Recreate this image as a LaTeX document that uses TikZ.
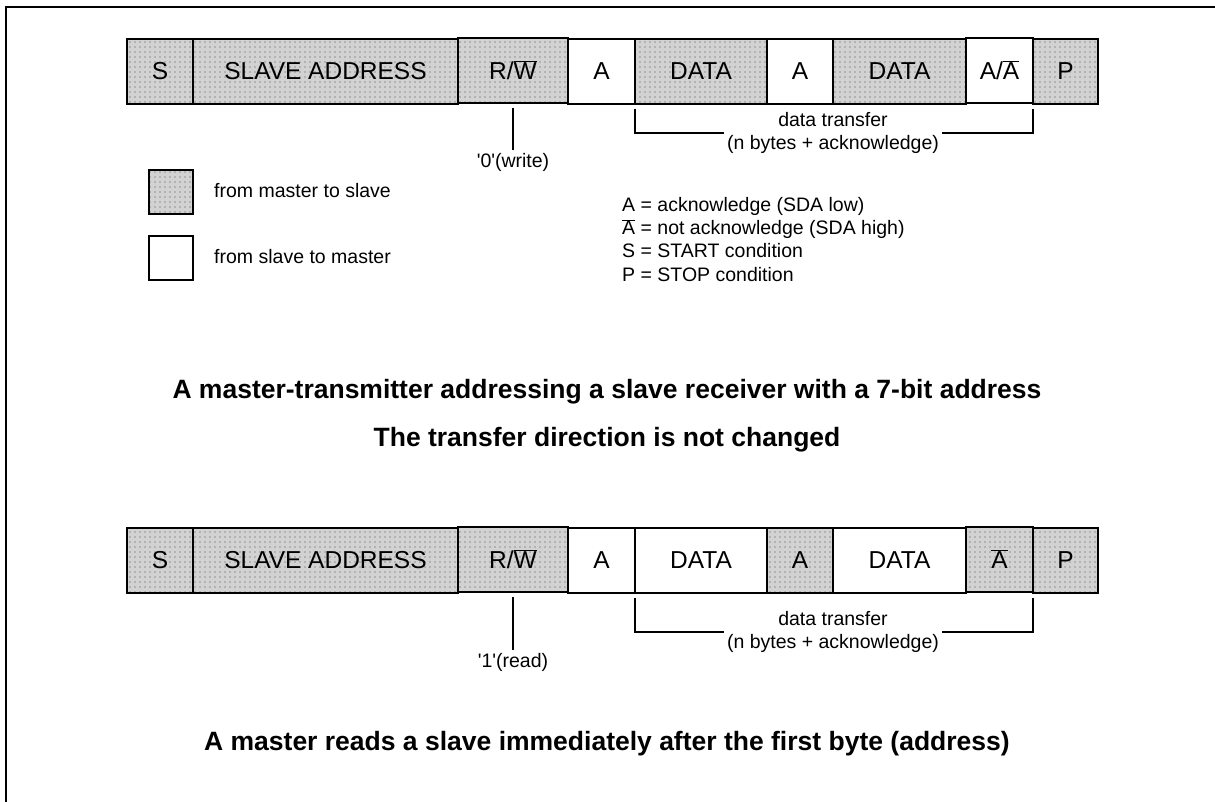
\documentclass[tikz,border=0pt]{standalone}
\usepackage{fontspec}
\setmainfont{Liberation Sans}
\usetikzlibrary{matrix,patterns.meta}
\newcommand{\Abar}{$\overline{\mbox{A}}$}
\newcommand{\Wbar}{$\overline{\mbox{W}}$}
\newcommand{\sq}{\textquotesingle}
\tikzset{
bar/.style={
  matrix of nodes,
  line width=1.6pt,
  column sep=-\pgflinewidth,
  inner sep=0pt,
  outer sep=0pt,
  anchor=north west,
  nodes={draw,rectangle,minimum height=65pt,inner sep=0pt,
    font=\fontsize{24.5}{28}\selectfont}
},
ms/.style={preaction={fill=gray!35},pattern={Dots[distance=5pt,radius=.6pt]},pattern color=black!70},
column 1/.style={nodes={minimum width=66pt}},
column 2/.style={nodes={minimum width=265pt}},
column 3/.style={nodes={minimum width=110pt}},
column 4/.style={nodes={minimum width=67pt}},
column 5/.style={nodes={minimum width=132pt}},
column 6/.style={nodes={minimum width=66pt}},
column 7/.style={nodes={minimum width=133pt}},
column 8/.style={nodes={minimum width=67pt}},
column 9/.style={nodes={minimum width=65pt}},
small/.style={font=\fontsize{19.5}{23.3}\selectfont,inner sep=3pt},
title/.style={font=\bfseries\fontsize{26.5}{30}\selectfont}
}

\begin{document}
\begin{tikzpicture}[x=1pt,y=-1pt]
\useasboundingbox (0,0) rectangle (1215,802);
\draw[line width=2pt] (6,802) -- (6,7) -- (1215,7);
% write frame
\matrix (wr) [bar] at (126.2,37.2) {
  |[ms]| S & |[ms]| SLAVE ADDRESS & |[ms]| R/\Wbar & A & |[ms]| DATA & A & |[ms]| DATA & A/\Abar & |[ms]| P \\
};
\node (w0) [small] at (513,162) {\sq0\sq(write)};
\node (wdt) [small,align=center] at (833,133) {data transfer\\(n bytes + acknowledge)};
% legend
\node (lm) [draw,line width=1.6pt,minimum size=44pt,ms] at (171,192) {};
\node (ls) [draw,line width=1.6pt,minimum size=44pt] at (171,258) {};
\node (lmt) [small,anchor=west] at (211,191) {from master to slave};
\node (lst) [small,anchor=west] at (211,257) {from slave to master};
\node (key) [small,anchor=north west,align=left] at (619,194) {A = acknowledge (SDA low)\\
  \Abar{} = not acknowledge (SDA high)\\S = START condition\\P = STOP condition};
\node (t1) [title] at (607,392) {A master-transmitter addressing a slave receiver with a 7-bit address};
\node (t2) [title] at (607,440) {The transfer direction is not changed};
% read frame
\matrix (rd) [bar] at (126.2,526.2) {
  |[ms]| S & |[ms]| SLAVE ADDRESS & |[ms]| R/\Wbar & A & DATA & |[ms]| A & DATA & |[ms]| \Abar & |[ms]| P \\
};
\node (r1) [small] at (513,662) {\sq1\sq(read)};
\node (rdt) [small,align=center] at (833,632) {data transfer\\(n bytes + acknowledge)};
\node (t3) [title] at (607,744) {A master reads a slave immediately after the first byte (address)};
% the annotation lines
\foreach \m/\b/\d in {wr/w0/wdt,rd/r1/rdt}
{
  \draw[line width=1.6pt] ([yshift=-5pt]\m-1-3.south) -- (\b);
  \draw[line width=1.6pt] ([yshift=-5pt]\m-1-5.south west) |- (\d.west);
  \draw[line width=1.6pt] ([yshift=-5pt]\m-1-9.south west) |- (\d.east);
}
\end{tikzpicture}
\end{document}
